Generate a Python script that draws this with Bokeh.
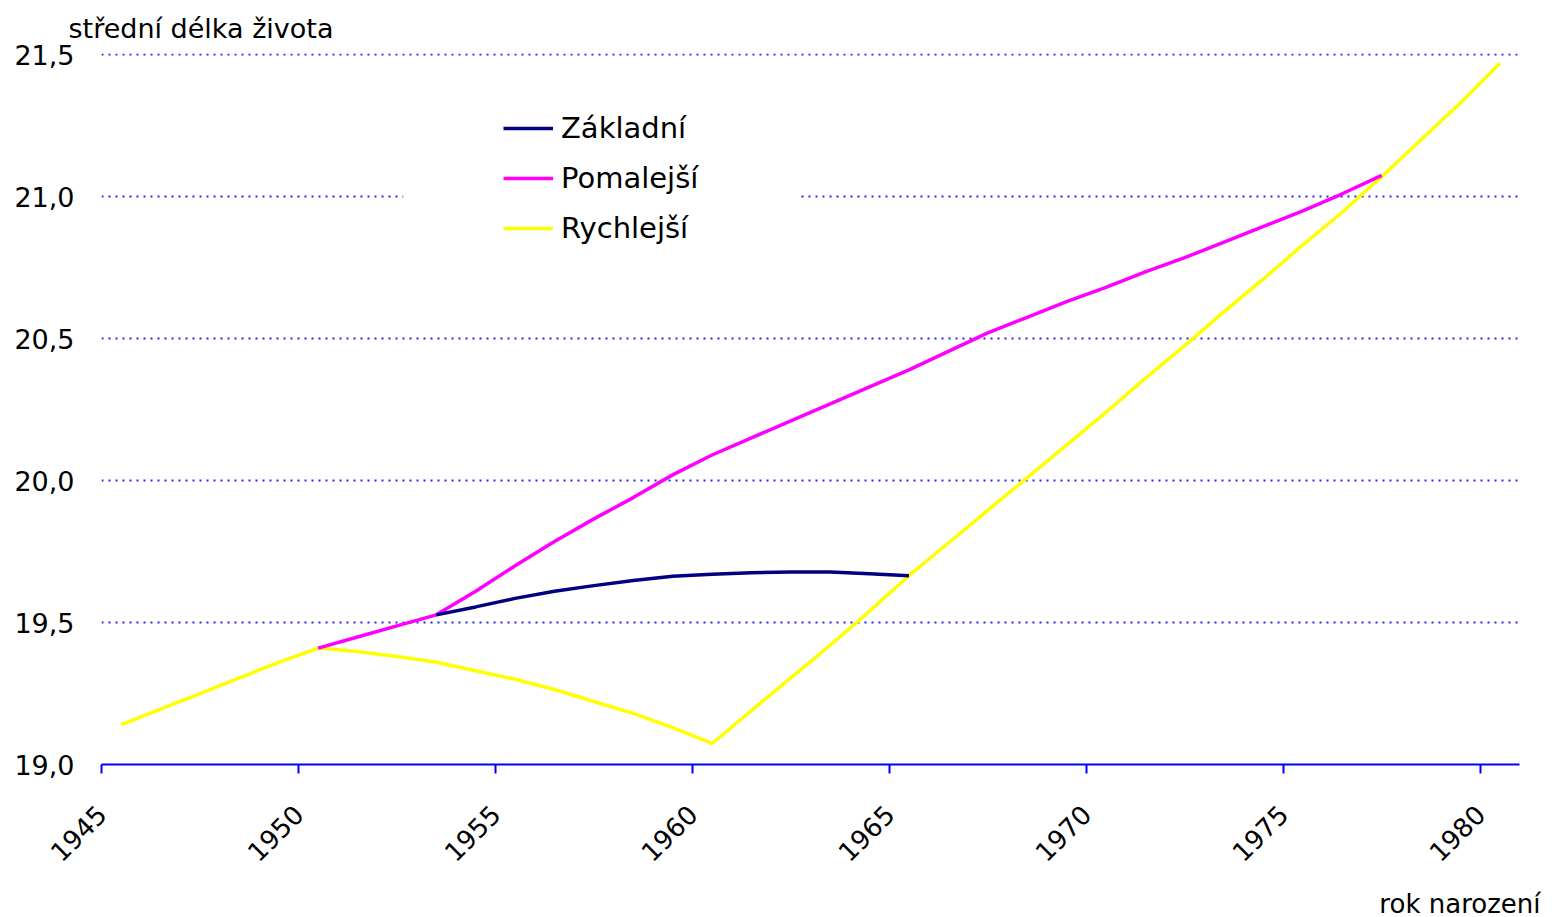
import math
from bokeh.plotting import figure
from bokeh.models import Range1d, FixedTicker, Legend, LegendItem, BoxAnnotation, Label
from bokeh.embed import file_html
from bokeh.resources import INLINE

# ---------------- data ----------------
years_rychlejsi = list(range(1945, 1981))
rychlejsi = [19.14, 19.195, 19.25, 19.305, 19.36, 19.41,
             19.398, 19.38, 19.36, 19.33, 19.30, 19.264, 19.222, 19.18, 19.13, 19.074,
             19.19, 19.305, 19.42, 19.54, 19.665, 19.78, 19.895, 20.01, 20.125, 20.24,
             20.36, 20.475, 20.595, 20.71, 20.83, 20.945, 21.07, 21.20, 21.33, 21.47]

years_pomalejsi = list(range(1950, 1978))
pomalejsi = [19.41, 19.449, 19.488, 19.527, 19.61, 19.70, 19.785, 19.865, 19.94, 20.02,
             20.09, 20.15, 20.21, 20.27, 20.33, 20.39, 20.455, 20.52, 20.575, 20.63,
             20.68, 20.735, 20.785, 20.84, 20.895, 20.95, 21.01, 21.075]

years_zakladni = list(range(1953, 1966))
zakladni = [19.527, 19.555, 19.585, 19.61, 19.63, 19.648, 19.663, 19.67, 19.675,
            19.678, 19.678, 19.672, 19.665]

x_ticks = [1945, 1950, 1955, 1960, 1965, 1970, 1975, 1980]
x_tick_labels = ["1945", "1950", "1955", "1960", "1965", "1970", "1975", "1980"]
y_ticks = [19.0, 19.5, 20.0, 20.5, 21.0, 21.5]
y_tick_labels = ["19,0", "19,5", "20,0", "20,5", "21,0", "21,5"]

series_names = ["Základní", "Pomalejší", "Rychlejší"]
series_colors = ["#000080", "#FF00FF", "#FFFF00"]

y_title = "střední délka života"
x_title = "rok narození"

FONT = "DejaVu Sans"

# ---------------- figure ----------------
p = figure(width=1558, height=917,
           x_range=Range1d(1945, 1981), y_range=Range1d(19.0, 21.504),
           output_backend="svg", toolbar_location=None,
           min_border_left=101, min_border_right=39,
           min_border_top=53, min_border_bottom=153)
p.outline_line_color = None
p.background_fill_color = "white"
p.border_fill_color = "white"

# y-axis title at top left
p.title.text = y_title
p.title.align = "left"
p.title.offset = -33
p.title.standoff = 19
p.title.text_font = FONT
p.title.text_font_size = "27px"
p.title.text_font_style = "normal"
p.title.text_color = "black"

# grid
p.xgrid.visible = False
p.ygrid.ticker = FixedTicker(ticks=y_ticks)
p.ygrid.grid_line_color = "#0000FF"
p.ygrid.grid_line_width = 2
p.ygrid.grid_line_dash = "2 5"
p.ygrid.grid_line_alpha = 0.85

# y axis
p.yaxis.ticker = FixedTicker(ticks=y_ticks)
p.yaxis.major_label_overrides = dict(zip(y_ticks, y_tick_labels))
p.yaxis.axis_line_color = None
p.yaxis.major_tick_line_color = None
p.yaxis.minor_tick_line_color = None
p.yaxis.major_tick_out = 0
p.yaxis.major_tick_in = 0
p.yaxis.major_label_standoff = 27
p.yaxis.major_label_text_font = FONT
p.yaxis.major_label_text_font_size = "27px"
p.yaxis.major_label_text_color = "black"

# x axis
p.xaxis.ticker = FixedTicker(ticks=x_ticks)
p.xaxis.major_label_overrides = dict(zip(x_ticks, x_tick_labels))
p.xaxis.axis_line_color = "#0000FF"
p.xaxis.axis_line_width = 2
p.xaxis.major_tick_line_color = "#0000FF"
p.xaxis.major_tick_line_width = 2
p.xaxis.major_tick_out = 9
p.xaxis.major_tick_in = 0
p.xaxis.minor_tick_line_color = None
p.xaxis.major_label_orientation = math.pi / 4
p.xaxis.major_label_standoff = 36
p.xaxis.major_label_text_font = FONT
p.xaxis.major_label_text_font_size = "26px"
p.xaxis.major_label_text_color = "black"

# x-axis title at bottom right (placed in the lower panel, outside the frame)
xl = Label(x=1981, y=19.0, x_offset=21, y_offset=-139, text=x_title,
           text_font=FONT, text_font_size="26px", text_color="black",
           text_align="right", text_baseline="alphabetic")
p.add_layout(xl, "below")

# white legend background covering the grid line
p.add_layout(BoxAnnotation(left=1952.66, right=1962.74, top=21.35, bottom=20.8,
                           fill_color="white", fill_alpha=1.0, line_alpha=0,
                           level="annotation"))

# lines
xs_z = [y + 0.5 for y in years_zakladni]
xs_p = [y + 0.5 for y in years_pomalejsi]
xs_r = [y + 0.5 for y in years_rychlejsi]
r_r = p.line(xs_r, rychlejsi, line_color=series_colors[2], line_width=3.5)
r_p = p.line(xs_p, pomalejsi, line_color=series_colors[1], line_width=3.5)
r_z = p.line(xs_z, zakladni, line_color=series_colors[0], line_width=3.5)

legend = Legend(items=[LegendItem(label=series_names[0], renderers=[r_z]),
                       LegendItem(label=series_names[1], renderers=[r_p]),
                       LegendItem(label=series_names[2], renderers=[r_r])],
                location=(392, 506))
legend.label_text_font = FONT
legend.label_text_font_size = "29px"
legend.label_text_color = "black"
legend.glyph_width = 50
legend.glyph_height = 40
legend.label_height = 40
legend.spacing = 10
legend.padding = 10
legend.margin = 0
legend.label_standoff = 8
legend.background_fill_alpha = 0
legend.border_line_alpha = 0
p.add_layout(legend)

open("out.html", "w").write(file_html(p, INLINE))
